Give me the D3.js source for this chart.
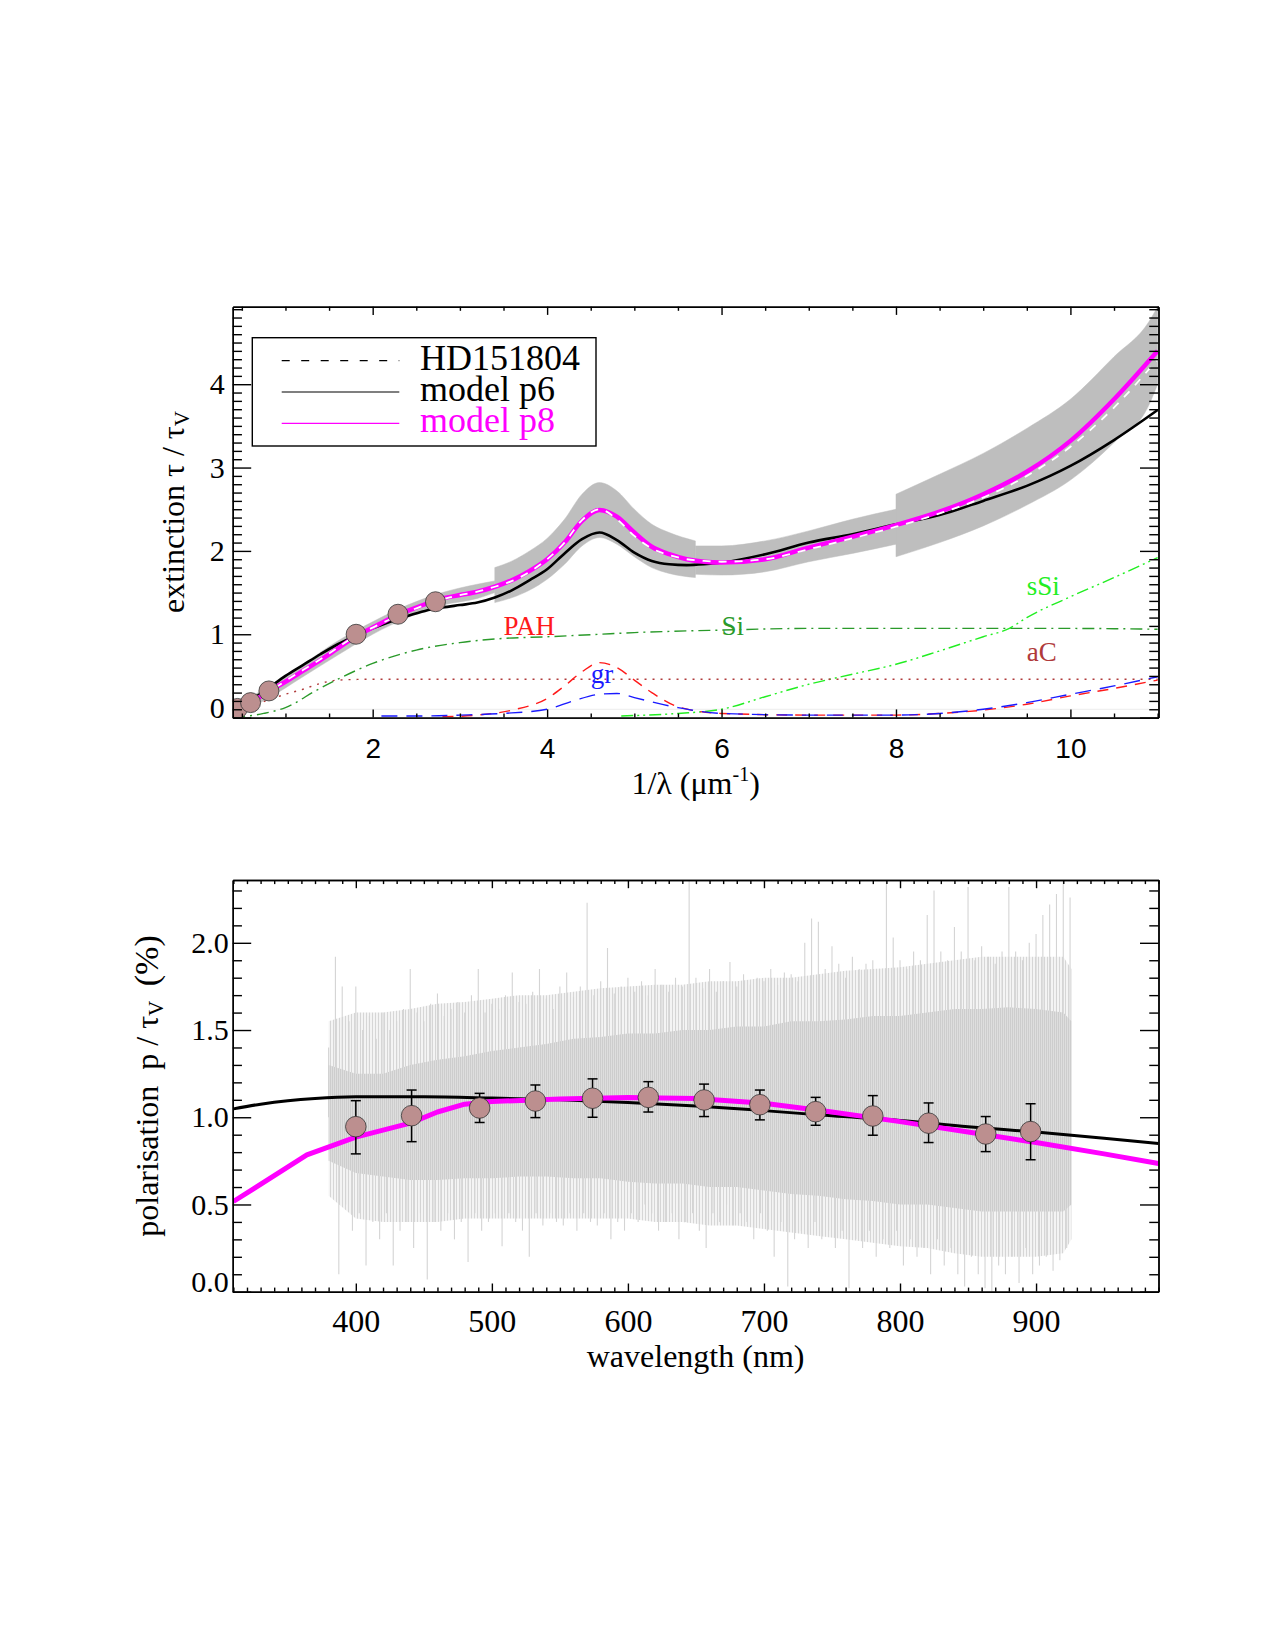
<!DOCTYPE html>
<html>
<head>
<meta charset="utf-8">
<script src="https://cdn.jsdelivr.net/npm/d3@7"></script>
<style>
  body { margin: 0; background: #fff; }
  text { font-family: "Liberation Serif", "Times New Roman", serif; }
</style>
</head>
<body>
<script>
// ---------- top panel: extinction curve vs 1/lambda ----------
const gridX  = [0.4,0.6,0.8,1.0,1.2,1.4,1.6,1.8,2.0,2.2,2.4,2.6,2.8,3.0,3.2,3.4,3.6,3.8,4.0,4.2,4.4,4.6,4.8,5.0,5.2,5.4,5.6,5.8,6.0,6.5,7.0,7.5,8.0,8.5,9.0,9.5,10.0,10.5,11.0];
const obsExt = [0.08,0.17,0.30,0.44,0.57,0.70,0.84,0.98,1.08,1.18,1.27,1.35,1.42,1.47,1.51,1.57,1.64,1.75,1.90,2.10,2.37,2.50,2.38,2.18,2.03,1.95,1.90,1.88,1.87,1.90,2.02,2.15,2.29,2.45,2.64,2.90,3.25,3.72,4.30];
const p6Ext  = [0.10,0.21,0.35,0.50,0.63,0.76,0.88,0.98,1.07,1.15,1.22,1.28,1.32,1.35,1.38,1.44,1.53,1.65,1.78,1.97,2.14,2.22,2.13,1.98,1.88,1.84,1.83,1.84,1.86,1.96,2.10,2.20,2.32,2.43,2.60,2.78,3.02,3.33,3.69];
const p8Ext  = [0.09,0.18,0.31,0.43,0.56,0.69,0.83,0.97,1.08,1.19,1.28,1.36,1.43,1.47,1.51,1.57,1.65,1.76,1.90,2.10,2.36,2.49,2.41,2.22,2.05,1.96,1.90,1.87,1.86,1.90,2.04,2.17,2.31,2.47,2.68,2.95,3.32,3.82,4.40];

// uncertainty band of HD151804 (repeated x = step in the band)
const bandX  = [0.4,0.8,1.2,1.6,2.0,2.4,2.8,3.2,3.4,3.4,3.6,3.8,4.0,4.2,4.4,4.6,4.8,5.0,5.2,5.4,5.7,5.7,6.0,6.5,7.0,7.5,8.0,8.0,8.5,9.0,9.5,10.0,10.5,10.9,11.0];
const bandHi = [0.13,0.37,0.64,0.92,1.15,1.35,1.50,1.60,1.64,1.80,1.88,2.00,2.15,2.38,2.68,2.82,2.72,2.50,2.32,2.22,2.12,2.06,2.06,2.12,2.24,2.38,2.50,2.68,2.92,3.17,3.47,3.82,4.33,4.75,4.93];
const bandLo = [0.03,0.23,0.49,0.75,1.00,1.20,1.35,1.43,1.50,1.38,1.44,1.53,1.66,1.84,2.06,2.16,2.08,1.93,1.80,1.73,1.68,1.72,1.71,1.75,1.87,1.97,2.08,1.93,2.10,2.30,2.55,2.85,3.30,3.75,4.00];

// photometric points
const photX = [0.45,0.60,0.81,1.81,2.29,2.72];
const photY = [0.11,0.18,0.32,1.00,1.24,1.39];

// dust components
const siX  = [0.4,0.75,1.0,1.36,1.6,2.0,2.5,3.0,3.5,4.0,4.6,5.0,6.0,7.0,8.0,9.0,10.0,11.0];
const siY  = [0.0,0.05,0.12,0.33,0.46,0.65,0.81,0.90,0.95,0.97,1.00,1.02,1.05,1.07,1.07,1.07,1.07,1.06];
const sSiX = [4.85,5.5,6.0,6.5,7.0,7.5,8.0,8.5,9.0,9.3,9.5,10.0,10.5,11.0];
const sSiY = [0.02,0.05,0.10,0.25,0.40,0.52,0.64,0.80,0.97,1.07,1.20,1.45,1.68,1.92];
const aCX  = [0.4,0.6,0.8,1.0,1.2,1.4,1.6,2.0,11.0];
const aCY  = [0.08,0.14,0.21,0.28,0.34,0.41,0.45,0.46,0.46];
const pahX = [2.8,3.2,3.6,4.0,4.2,4.4,4.6,4.8,5.0,5.2,5.5,6.0,7.0,8.0,8.5,9.0,9.5,10.0,10.5,11.0];
const pahY = [0.01,0.03,0.09,0.23,0.38,0.55,0.66,0.60,0.45,0.30,0.13,0.05,0.03,0.03,0.05,0.09,0.16,0.26,0.35,0.45];
const grX  = [2.1,2.6,3.0,3.5,4.0,4.3,4.6,4.8,5.0,5.5,6.0,7.0,8.0,8.5,9.0,9.5,10.0,10.5,11.0];
const grY  = [0.02,0.02,0.03,0.05,0.10,0.20,0.28,0.29,0.24,0.12,0.05,0.03,0.03,0.05,0.10,0.18,0.28,0.38,0.49];

const legendNames = ['HD151804', 'model p6', 'model p8'];

// ---------- bottom panel: polarisation vs wavelength ----------
const polWave = [400,441,491,532,574,615,656,697,738,780,821,863,896];
const polVal  = [0.946,1.009,1.053,1.093,1.109,1.114,1.099,1.072,1.032,1.007,0.966,0.904,0.918];
const polLo   = [0.79,0.86,0.97,0.998,1.00,1.03,1.004,0.985,0.954,0.897,0.855,0.803,0.756];
const polHi   = [1.095,1.156,1.137,1.185,1.22,1.204,1.19,1.156,1.114,1.124,1.082,1.004,1.078];

const p6Wave = [310,330,350,370,400,450,500,550,600,650,700,750,800,850,900,950,990];
const p6Pol  = [1.048,1.075,1.095,1.108,1.117,1.117,1.110,1.100,1.085,1.065,1.038,1.008,0.982,0.945,0.915,0.880,0.850];
const p8Wave = [310,364,400,440,460,480,500,550,600,650,700,750,800,850,900,950,990];
const p8Pol  = [0.517,0.784,0.886,0.966,1.030,1.075,1.090,1.105,1.113,1.108,1.080,1.030,0.975,0.915,0.855,0.790,0.735];

// observed spectrum: haze envelope, dense core and spikes (every 5 nm)
const coreWave = [380,400,420,440,460,480,500,520,540,560,580,600,620,640,660,680,700,720,740,760,780,800,820,840,860,880,900,920,926];
const outerHi = [1.55,1.60,1.60,1.62,1.65,1.66,1.68,1.70,1.70,1.72,1.74,1.75,1.76,1.76,1.78,1.78,1.80,1.80,1.82,1.84,1.85,1.86,1.88,1.90,1.92,1.92,1.92,1.92,1.85];
const outerLo = [0.55,0.42,0.40,0.40,0.40,0.42,0.42,0.42,0.42,0.42,0.42,0.42,0.40,0.40,0.38,0.38,0.36,0.34,0.32,0.30,0.28,0.26,0.25,0.22,0.20,0.20,0.20,0.22,0.30];
const coreHi = [1.30,1.25,1.25,1.30,1.33,1.35,1.38,1.40,1.42,1.45,1.46,1.48,1.48,1.50,1.50,1.52,1.52,1.55,1.55,1.56,1.58,1.58,1.60,1.62,1.62,1.63,1.62,1.60,1.55];
const coreLo = [0.75,0.68,0.66,0.64,0.64,0.65,0.65,0.66,0.66,0.65,0.65,0.63,0.62,0.62,0.60,0.60,0.58,0.56,0.55,0.53,0.52,0.50,0.50,0.48,0.46,0.46,0.46,0.46,0.50];
const spikeStart = 380, spikeStep = 5;
const spikeHi = [1.40,1.92,1.75,1.55,1.75,1.50,1.58,1.45,1.60,1.50,1.55,1.62,1.85,1.60,1.55,1.65,1.71,1.58,1.62,1.66,
  1.60,1.70,1.85,1.60,1.65,1.62,1.70,1.83,1.66,1.65,1.72,1.85,1.68,1.62,1.75,1.83,1.69,1.75,2.23,1.70,
  1.78,1.97,1.71,1.75,1.80,1.72,1.78,1.70,1.85,1.76,1.72,1.80,1.75,2.36,1.80,1.74,1.85,1.72,1.78,1.89,
  1.75,1.82,1.76,1.80,1.78,1.85,1.76,1.83,1.82,1.78,2.00,2.14,2.12,1.85,1.98,1.88,1.80,1.92,1.85,1.88,
  1.90,1.85,2.36,2.03,1.90,1.85,1.95,1.90,2.16,2.30,1.95,1.90,2.09,1.95,2.32,1.90,1.98,1.92,1.88,1.95,
  2.32,1.95,1.90,2.00,2.05,2.16,2.22,2.28,2.36,2.26];
const spikeLo = [0.80,0.10,0.50,0.35,0.45,0.15,0.40,0.30,0.45,0.15,0.35,0.40,0.25,0.45,0.07,0.40,0.35,0.45,0.30,0.40,
  0.17,0.45,0.35,0.40,0.45,0.26,0.45,0.40,0.35,0.20,0.45,0.38,0.45,0.40,0.38,0.45,0.35,0.45,0.40,0.38,
  0.45,0.30,0.40,0.35,0.45,0.40,0.50,0.45,0.35,0.40,0.45,0.30,0.40,0.45,0.35,0.25,0.45,0.40,0.50,0.38,
  0.45,0.40,0.30,0.45,0.35,0.20,0.40,0.03,0.30,0.35,0.25,0.40,0.30,0.35,0.25,0.35,0.02,0.30,0.25,0.35,
  0.20,0.30,0.25,0.35,0.15,0.30,0.20,0.25,0.10,0.30,0.15,0.25,0.10,0.03,0.20,0.10,0.02,0.00,0.15,0.10,
  0.20,0.05,0.25,0.10,0.15,0.20,0.12,0.18,0.25];

// ---------- drawing ----------
const W = 1275, H = 1650;
const MAGENTA = '#ff00ff', POINT = '#bc8f8f';
const SERIF = '"Liberation Serif", "Times New Roman", serif';
const svg = d3.select('body').append('svg').attr('width', W).attr('height', H);
svg.append('rect').attr('width', W).attr('height', H).attr('fill', '#fff');

// hairline textures for the noisy spectrum
const defs = svg.append('defs');
const stripes = (id, bg, fg, w) => {
  const p = defs.append('pattern').attr('id', id).attr('patternUnits', 'userSpaceOnUse')
    .attr('width', w).attr('height', 10);
  p.append('rect').attr('width', w).attr('height', 10).attr('fill', bg);
  p.append('rect').attr('width', 1).attr('height', 10).attr('fill', fg);
};
stripes('haze', '#f4f4f4', '#d6d6d6', 3);
stripes('core', '#dedede', '#cdcdcd', 2);

const zip = (a, b) => a.map((v, i) => [v, b[i]]);

function frame(g, sx, sy, o) {
  const [x0, x1] = sx.range(), [y0, y1] = sy.range();
  const put = (axis, tr, len, vals, fmt, pad) => g.append('g')
    .attr('transform', tr)
    .call(axis.tickValues(vals).tickSize(-len).tickSizeOuter(0).tickPadding(pad || 0).tickFormat(fmt || (() => '')));
  const axes = [
    put(d3.axisBottom(sx), `translate(0,${y0})`, o.xLen / 2, o.xMinor),
    put(d3.axisBottom(sx), `translate(0,${y0})`, o.xLen, o.xMajor, o.xFmt, o.xPad),
    put(d3.axisTop(sx), `translate(0,${y1})`, o.xLen / 2, o.xMinor),
    put(d3.axisTop(sx), `translate(0,${y1})`, o.xLen, o.xMajor),
    put(d3.axisLeft(sy), `translate(${x0},0)`, o.yLen / 2, o.yMinor),
    put(d3.axisLeft(sy), `translate(${x0},0)`, o.yLen, o.yMajor, o.yFmt, o.yPad),
    put(d3.axisRight(sy), `translate(${x1},0)`, o.yLen / 2, o.yMinor),
    put(d3.axisRight(sy), `translate(${x1},0)`, o.yLen, o.yMajor)
  ];
  axes.forEach(a => {
    a.selectAll('path, line').attr('stroke', '#000').attr('stroke-width', 1.4);
    a.selectAll('text').attr('fill', '#000');
  });
  axes[1].selectAll('text').style('font-family', o.xFont).attr('font-size', o.xSize);
  axes[5].selectAll('text').style('font-family', SERIF).attr('font-size', o.ySize)
    .filter(d => d === 0).attr('dy', '-0.02em');
}

// ===== top panel =====
const xT = d3.scaleLinear().domain([0.395, 11.01]).range([232.7, 1158.5]);
const yT = d3.scaleLinear().domain([0, 4.93]).range([717.6, 306.7]);
const topG = svg.append('g');
topG.append('clipPath').attr('id', 'clipT').append('rect')
  .attr('x', 232.7).attr('y', 306.7).attr('width', 925.8).attr('height', 410.9);
const plotT = topG.append('g').attr('clip-path', 'url(#clipT)');
const lineT = d3.line().x(d => xT(d[0])).y(d => yT(d[1])).curve(d3.curveMonotoneX);

// faint reference line
plotT.append('line').attr('x1', xT(0.395)).attr('x2', xT(11.01))
  .attr('y1', yT(0.1)).attr('y2', yT(0.1)).attr('stroke', '#ececec').attr('stroke-width', 1);

// band, split at steps
const band = bandX.map((x, i) => [x, bandLo[i], bandHi[i]]);
const segs = [[]];
band.forEach((d, i) => {
  if (i > 0 && d[0] === band[i - 1][0]) segs.push([]);
  segs[segs.length - 1].push(d);
});
const areaT = d3.area().x(d => xT(d[0])).y0(d => yT(d[1])).y1(d => yT(d[2])).curve(d3.curveMonotoneX);
plotT.selectAll('path.band').data(segs).join('path').attr('class', 'band')
  .attr('d', areaT).attr('fill', '#bebebe').attr('stroke', '#bebebe').attr('stroke-width', 0.5);

// components
const comps = [
  { x: siX, y: siY, c: '#2a9a2a', dash: '12,5,2,5', w: 1.4 },
  { x: sSiX, y: sSiY, c: '#22ee22', dash: '12,4,2,4,2,4', w: 1.4 },
  { x: aCX, y: aCY, c: '#b03a3a', dash: '2,6', w: 1.4 },
  { x: pahX, y: pahY, c: '#ff1a1a', dash: '11,8', w: 1.4 },
  { x: grX, y: grY, c: '#1a1aff', dash: '16,9', w: 1.4 }
];
comps.forEach(s => plotT.append('path').datum(zip(s.x, s.y)).attr('d', lineT)
  .attr('fill', 'none').attr('stroke', s.c).attr('stroke-width', s.w).attr('stroke-dasharray', s.dash));

const compLabels = [
  { t: 'PAH', x: 3.5, y: 0.99, c: '#ff1a1a' },
  { t: 'Si', x: 6.0, y: 0.99, c: '#2a9a2a' },
  { t: 'sSi', x: 9.5, y: 1.47, c: '#22ee22' },
  { t: 'aC', x: 9.5, y: 0.68, c: '#b03a3a' },
  { t: 'gr', x: 4.5, y: 0.41, c: '#1a1aff' }
];
topG.selectAll('text.comp').data(compLabels).join('text').attr('class', 'comp')
  .attr('x', d => xT(d.x)).attr('y', d => yT(d.y)).attr('fill', d => d.c)
  .attr('font-size', 27).text(d => d.t);

// models and observation
plotT.append('path').datum(zip(gridX, p6Ext)).attr('d', lineT)
  .attr('fill', 'none').attr('stroke', '#000').attr('stroke-width', 2.6);
plotT.append('path').datum(zip(gridX, p8Ext)).attr('d', lineT)
  .attr('fill', 'none').attr('stroke', MAGENTA).attr('stroke-width', 4.5);
plotT.append('path').datum(zip(gridX, obsExt)).attr('d', lineT)
  .attr('fill', 'none').attr('stroke', '#fff').attr('stroke-width', 1.8).attr('stroke-dasharray', '8,8');

plotT.selectAll('circle').data(zip(photX, photY)).join('circle')
  .attr('cx', d => xT(d[0])).attr('cy', d => yT(d[1])).attr('r', 10)
  .attr('fill', POINT).attr('stroke', '#333').attr('stroke-width', 0.8);

frame(topG, xT, yT, {
  xMajor: [2, 4, 6, 8, 10], xMinor: d3.range(0.5, 11.01, 0.5).filter(v => v % 2 !== 0),
  yMajor: [0, 1, 2, 3, 4], yMinor: d3.range(1, 50).map(i => i / 10).filter(v => v % 1 !== 0),
  xLen: 8.2, yLen: 18.5, xPad: 21, yPad: 8,
  xFmt: d3.format('d'), yFmt: d3.format('d'),
  xFont: '"Liberation Sans", Arial, sans-serif', xSize: 28, ySize: 30
});

// legend
const leg = topG.append('g');
leg.append('rect').attr('x', 252.3).attr('y', 337.7).attr('width', 343.7).attr('height', 108.3)
  .attr('fill', '#fff').attr('stroke', '#000').attr('stroke-width', 1.4);
const legStyle = [
  { c: '#000', dash: '8,11.5', tc: '#000' },
  { c: '#000', dash: null, tc: '#000' },
  { c: MAGENTA, dash: null, tc: MAGENTA }
];
const legRow = 31.3;
legendNames.forEach((name, i) => {
  const yy = 360.7 + i * legRow;
  leg.append('line').attr('x1', 281.7).attr('x2', 399.3).attr('y1', yy).attr('y2', yy)
    .attr('stroke', legStyle[i].c).attr('stroke-width', 1.2).attr('stroke-dasharray', legStyle[i].dash);
});
const legText = leg.append('text').attr('x', 420).attr('y', 369.7).attr('font-size', 36);
legendNames.forEach((name, i) => {
  legText.append('tspan').attr('x', 420).attr('dy', i === 0 ? 0 : legRow)
    .attr('fill', legStyle[i].tc).text(name);
});

// titles
const tT = topG.append('text').attr('transform', 'translate(184,512) rotate(-90)')
  .attr('text-anchor', 'middle').attr('font-size', 32);
tT.append('tspan').text('extinction τ / τ');
tT.append('tspan').attr('font-size', 21).attr('dy', 5).text('V');
const xTt = topG.append('text').attr('x', 695.6).attr('y', 794).attr('text-anchor', 'middle').attr('font-size', 32);
xTt.append('tspan').text('1/λ (μm');
xTt.append('tspan').attr('font-size', 20).attr('dy', -13).text('-1');
xTt.append('tspan').attr('dy', 13).text(')');

// ===== bottom panel =====
const xB = d3.scaleLinear().domain([309.5, 990]).range([232.7, 1158.5]);
const yB = d3.scaleLinear().domain([0, 2.36]).range([1291.7, 880]);
const botG = svg.append('g');
botG.append('clipPath').attr('id', 'clipB').append('rect')
  .attr('x', 232.7).attr('y', 880).attr('width', 925.8).attr('height', 411.7);
const plotB = botG.append('g').attr('clip-path', 'url(#clipB)');

// spectrum
const areaB = d3.area().x(d => xB(d[0])).y0(d => yB(d[1])).y1(d => yB(d[2])).curve(d3.curveLinear);
plotB.append('path').datum(coreWave.map((w, i) => [w, outerLo[i], outerHi[i]]))
  .attr('d', areaB).attr('fill', 'url(#haze)');
const spikeUp = spikeHi.map((v, i) => [spikeStart + i * spikeStep, v]);
const spikeDown = spikeLo.map((v, i) => [spikeStart + spikeStep / 2 + i * spikeStep, v]);
plotB.selectAll('line.up').data(spikeUp).join('line').attr('class', 'up')
  .attr('x1', d => xB(d[0])).attr('x2', d => xB(d[0]))
  .attr('y1', yB(1.0)).attr('y2', d => yB(d[1]))
  .attr('stroke', '#d4d4d4').attr('stroke-width', 1.1);
plotB.selectAll('line.dn').data(spikeDown).join('line').attr('class', 'dn')
  .attr('x1', d => xB(d[0])).attr('x2', d => xB(d[0]))
  .attr('y1', yB(1.0)).attr('y2', d => yB(d[1]))
  .attr('stroke', '#d4d4d4').attr('stroke-width', 1.1);
plotB.append('path').datum(coreWave.map((w, i) => [w, coreLo[i], coreHi[i]]))
  .attr('d', areaB).attr('fill', 'url(#core)');

// models
plotB.append('path').datum(zip(p6Wave, p6Pol))
  .attr('d', d3.line().x(d => xB(d[0])).y(d => yB(d[1])).curve(d3.curveMonotoneX))
  .attr('fill', 'none').attr('stroke', '#000').attr('stroke-width', 3);
plotB.append('path').datum(zip(p8Wave, p8Pol))
  .attr('d', d3.line().x(d => xB(d[0])).y(d => yB(d[1])).curve(d3.curveLinear))
  .attr('fill', 'none').attr('stroke', MAGENTA).attr('stroke-width', 5).attr('stroke-linejoin', 'round');

// error bars and points
const pts = polWave.map((w, i) => ({ w, v: polVal[i], lo: polLo[i], hi: polHi[i] }));
const eb = plotB.selectAll('g.eb').data(pts).join('g').attr('class', 'eb')
  .attr('stroke', '#000').attr('stroke-width', 1.5);
eb.append('line').attr('x1', d => xB(d.w)).attr('x2', d => xB(d.w))
  .attr('y1', d => yB(d.lo)).attr('y2', d => yB(d.hi));
eb.append('line').attr('x1', d => xB(d.w) - 5).attr('x2', d => xB(d.w) + 5)
  .attr('y1', d => yB(d.lo)).attr('y2', d => yB(d.lo));
eb.append('line').attr('x1', d => xB(d.w) - 5).attr('x2', d => xB(d.w) + 5)
  .attr('y1', d => yB(d.hi)).attr('y2', d => yB(d.hi));
plotB.selectAll('circle').data(pts).join('circle')
  .attr('cx', d => xB(d.w)).attr('cy', d => yB(d.v)).attr('r', 10.3)
  .attr('fill', POINT).attr('stroke', '#333').attr('stroke-width', 0.8);

frame(botG, xB, yB, {
  xMajor: [400, 500, 600, 700, 800, 900], xMinor: d3.range(310, 991, 10).filter(v => v % 100 !== 0),
  yMajor: [0, 0.5, 1.0, 1.5, 2.0], yMinor: d3.range(1, 24).filter(i => i % 5 !== 0).map(i => i / 10),
  xLen: 8.2, yLen: 18.5, xPad: 18, yPad: 4,
  xFmt: d3.format('d'), yFmt: d3.format('.1f'),
  xFont: SERIF, xSize: 32, ySize: 30
});

const tB = botG.append('text').attr('transform', 'translate(158,1086) rotate(-90)')
  .attr('text-anchor', 'middle').attr('font-size', 32).style('white-space', 'pre');
tB.append('tspan').text('polarisation  p / τ');
tB.append('tspan').attr('font-size', 21).attr('dy', 5).text('V');
tB.append('tspan').attr('dy', -5).attr('dx', 6).attr('font-size', 34).text(' (%)');
botG.append('text').attr('x', 695.6).attr('y', 1367).attr('text-anchor', 'middle')
  .attr('font-size', 32).text('wavelength (nm)');
</script>
</body>
</html>
